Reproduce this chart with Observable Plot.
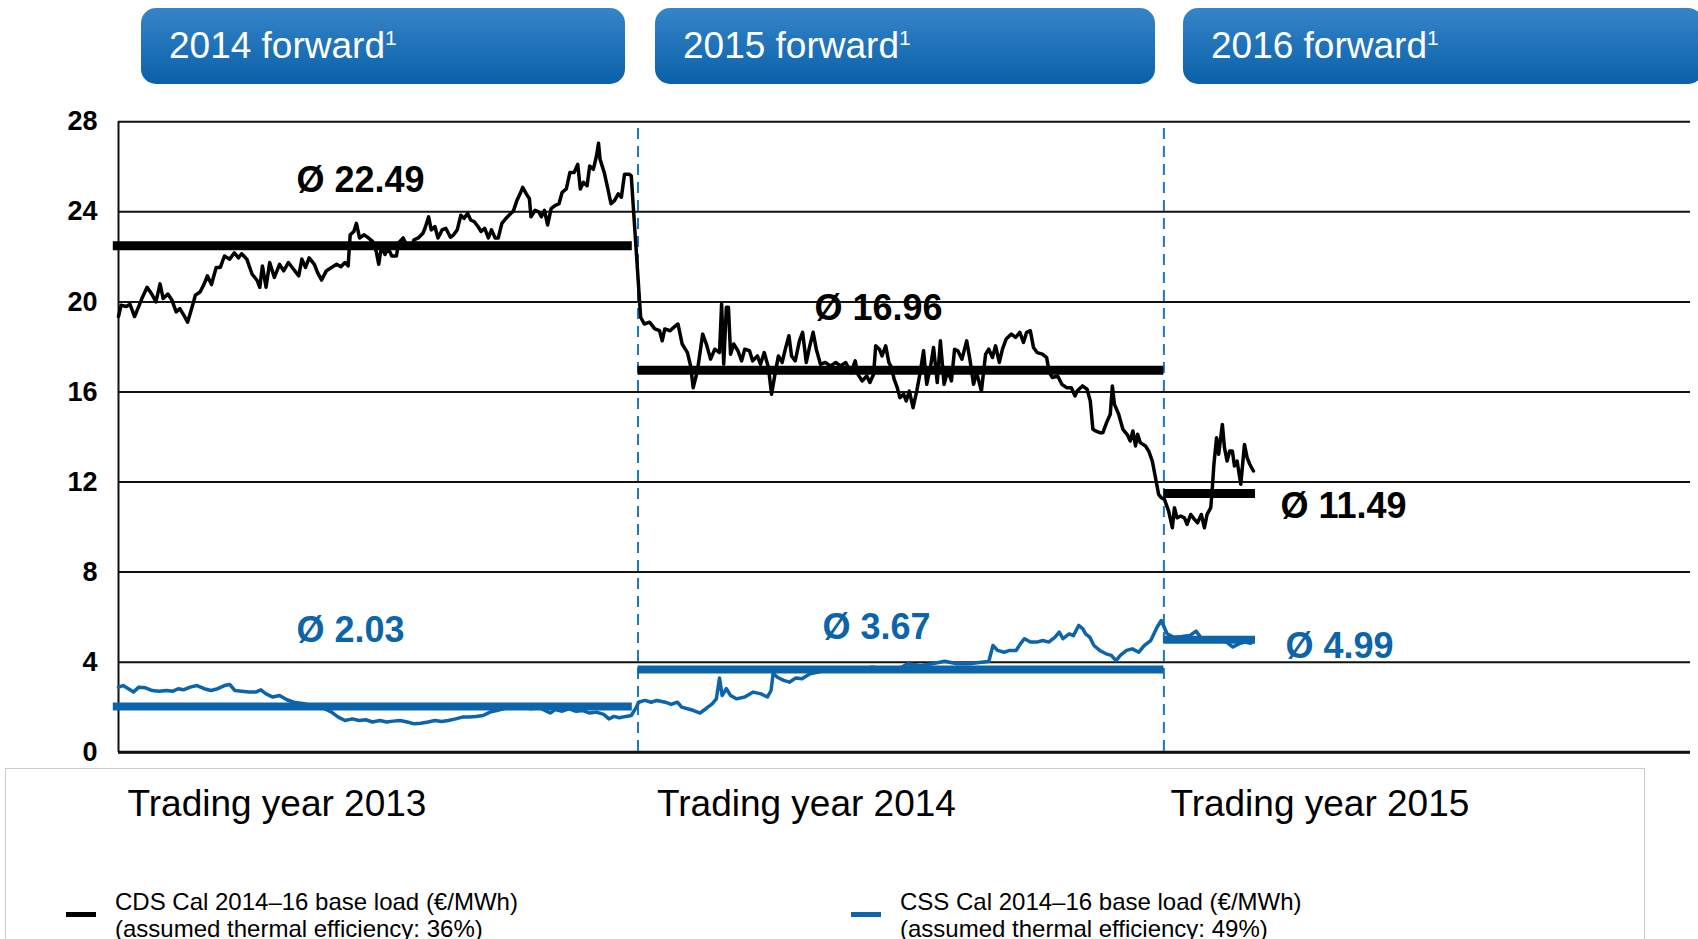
<!DOCTYPE html>
<html><head><meta charset="utf-8">
<script src="https://cdn.jsdelivr.net/npm/d3@7"></script>
<script src="https://cdn.jsdelivr.net/npm/@observablehq/plot@0.6"></script>
<style>
html,body{margin:0;padding:0;background:#fff;}
body{width:1698px;height:939px;overflow:hidden;position:relative;font-family:"Liberation Sans",Arial,Helvetica,sans-serif;color:#000;}
.hdr{position:absolute;top:7.5px;height:76px;border-radius:15px;background:linear-gradient(#3584c8,#0a61a9);color:#fff;font-size:37px;line-height:76px;padding-left:28px;box-sizing:border-box;white-space:nowrap;}
.hdr sup{font-size:21px;line-height:0;vertical-align:13px;}
#frame{position:absolute;left:5px;top:768px;width:1640px;height:200px;border:1.5px solid #cbcbcb;box-sizing:border-box;}
#chart{position:absolute;left:0;top:0;}
.leg{position:absolute;font-size:24px;line-height:26.5px;white-space:nowrap;}
.sw{position:absolute;width:30px;height:5px;}
</style></head>
<body>
<div id="frame"></div>
<div id="chart"></div>
<div id="headers"></div>
<div id="legend"></div>
<script>
// ---------------- data ----------------
const yTicks = [0, 4, 8, 12, 16, 20, 24, 28];
const forwardNames = ["2014 forward", "2015 forward", "2016 forward"];
const tradingYears = [2013, 2014, 2015];
const periodStart = [2013, 2014, 2015];
const avgStart = [2012.99, 2014.0, 2015.0];
const avgEnd = [2013.989, 2015.0, 2015.174];
const cdsAvg = [22.49, 16.96, 11.49];
const cssAvg = [2.03, 3.67, 4.99];
const legendNames = ["CDS Cal 2014\u201316 base load (\u20ac/MWh)", "CSS Cal 2014\u201316 base load (\u20ac/MWh)"];
const legendNotes = ["(assumed thermal efficiency: 36%)", "(assumed thermal efficiency: 49%)"];

// CDS (black), [time in years, €/MWh]
const cds2013 = [[2013.000,19.35],[2013.005,19.85],[2013.015,19.80],[2013.022,19.90],[2013.031,19.35],[2013.039,19.80],[2013.045,20.15],[2013.055,20.65],[2013.064,20.35],[2013.072,20.00],[2013.080,20.80],[2013.086,20.15],[2013.095,20.35],[2013.103,20.07],[2013.111,19.56],[2013.118,19.70],[2013.126,19.40],[2013.133,19.10],[2013.139,19.56],[2013.148,20.30],[2013.157,20.44],[2013.165,20.80],[2013.171,21.16],[2013.179,20.77],[2013.188,21.53],[2013.196,21.53],[2013.204,22.04],[2013.214,21.90],[2013.223,22.18],[2013.231,21.96],[2013.237,22.14],[2013.247,21.90],[2013.257,21.24],[2013.267,20.95],[2013.272,20.65],[2013.277,21.60],[2013.284,20.65],[2013.291,21.75],[2013.300,21.09],[2013.310,21.67],[2013.318,21.38],[2013.327,21.75],[2013.337,21.45],[2013.347,21.16],[2013.353,21.90],[2013.360,21.53],[2013.367,21.96],[2013.377,21.67],[2013.383,21.31],[2013.391,20.97],[2013.400,21.38],[2013.410,21.53],[2013.420,21.67],[2013.428,21.56],[2013.436,21.75],[2013.442,21.60],[2013.446,22.98],[2013.453,23.13],[2013.458,23.49],[2013.464,22.84],[2013.473,22.98],[2013.481,22.84],[2013.489,22.69],[2013.496,22.25],[2013.501,21.67],[2013.506,22.47],[2013.513,22.11],[2013.519,22.40],[2013.526,22.04],[2013.535,22.04],[2013.539,22.62],[2013.548,22.84],[2013.554,22.55],[2013.562,22.43],[2013.569,22.76],[2013.577,22.84],[2013.586,23.05],[2013.590,23.27],[2013.597,23.78],[2013.602,23.20],[2013.609,23.35],[2013.615,22.84],[2013.623,23.20],[2013.630,23.27],[2013.639,22.87],[2013.645,22.98],[2013.652,23.20],[2013.659,23.85],[2013.665,23.71],[2013.672,23.93],[2013.678,23.64],[2013.685,23.56],[2013.692,23.35],[2013.698,23.13],[2013.705,23.27],[2013.712,22.84],[2013.718,23.20],[2013.725,22.84],[2013.731,22.84],[2013.738,23.49],[2013.747,23.74],[2013.755,23.93],[2013.760,24.03],[2013.767,24.51],[2013.773,24.80],[2013.778,25.09],[2013.785,24.80],[2013.791,24.58],[2013.794,23.78],[2013.802,24.07],[2013.809,24.00],[2013.814,23.78],[2013.820,24.07],[2013.826,23.42],[2013.833,24.15],[2013.841,24.29],[2013.848,24.36],[2013.854,24.87],[2013.862,25.02],[2013.869,25.75],[2013.877,25.75],[2013.884,26.11],[2013.889,25.02],[2013.895,25.31],[2013.902,25.16],[2013.907,26.04],[2013.914,25.89],[2013.920,26.47],[2013.924,27.05],[2013.927,26.33],[2013.935,25.75],[2013.942,25.02],[2013.948,24.36],[2013.955,24.51],[2013.962,24.80],[2013.968,24.65],[2013.974,25.67],[2013.983,25.67],[2013.987,25.60]];
const cds2014 = [[2014.005,19.32],[2014.012,19.02],[2014.022,19.10],[2014.032,18.80],[2014.041,18.72],[2014.046,18.27],[2014.051,18.80],[2014.061,18.72],[2014.068,18.87],[2014.076,19.02],[2014.084,18.13],[2014.094,17.75],[2014.100,17.16],[2014.105,16.19],[2014.113,16.94],[2014.123,18.57],[2014.130,18.13],[2014.138,17.46],[2014.146,17.90],[2014.155,17.75],[2014.159,19.91],[2014.163,17.23],[2014.168,19.76],[2014.172,19.76],[2014.176,17.68],[2014.182,18.13],[2014.190,17.83],[2014.197,17.38],[2014.203,17.90],[2014.212,17.83],[2014.218,17.38],[2014.227,17.60],[2014.233,17.23],[2014.240,17.75],[2014.248,17.09],[2014.254,15.90],[2014.261,16.86],[2014.267,17.60],[2014.274,17.31],[2014.281,17.98],[2014.287,18.50],[2014.292,17.60],[2014.299,17.38],[2014.307,18.27],[2014.313,18.65],[2014.320,17.31],[2014.326,17.98],[2014.333,18.65],[2014.339,17.90],[2014.347,17.23],[2014.356,17.31],[2014.366,17.16],[2014.376,17.31],[2014.385,17.16],[2014.395,17.31],[2014.405,16.86],[2014.413,17.38],[2014.418,16.79],[2014.426,16.49],[2014.435,16.71],[2014.441,16.42],[2014.448,16.79],[2014.452,18.05],[2014.459,17.90],[2014.464,17.60],[2014.471,18.05],[2014.477,17.31],[2014.482,17.09],[2014.487,16.57],[2014.493,16.19],[2014.498,15.75],[2014.505,15.90],[2014.510,15.60],[2014.516,16.04],[2014.523,15.30],[2014.530,16.04],[2014.536,16.79],[2014.543,17.83],[2014.549,16.34],[2014.556,17.09],[2014.562,17.98],[2014.569,16.42],[2014.575,18.27],[2014.582,16.34],[2014.589,16.94],[2014.596,16.49],[2014.602,17.90],[2014.608,17.83],[2014.616,17.46],[2014.625,18.27],[2014.631,17.46],[2014.638,16.34],[2014.644,16.86],[2014.653,16.04],[2014.661,17.68],[2014.667,17.90],[2014.674,17.53],[2014.680,18.05],[2014.687,17.31],[2014.693,17.90],[2014.700,18.35],[2014.710,18.57],[2014.718,18.42],[2014.726,18.65],[2014.733,18.20],[2014.739,18.65],[2014.746,18.72],[2014.752,17.98],[2014.759,17.75],[2014.769,17.68],[2014.777,17.53],[2014.782,16.86],[2014.788,16.64],[2014.798,16.71],[2014.806,16.34],[2014.815,16.19],[2014.824,16.19],[2014.831,15.82],[2014.835,16.04],[2014.845,16.27],[2014.854,16.12],[2014.860,15.60],[2014.865,14.34],[2014.870,14.27],[2014.878,14.19],[2014.884,14.19],[2014.891,14.64],[2014.898,15.01],[2014.902,16.27],[2014.906,15.45],[2014.914,15.01],[2014.922,14.34],[2014.930,14.12],[2014.936,13.82],[2014.941,14.27],[2014.946,13.60],[2014.950,14.12],[2014.955,13.75],[2014.965,13.60],[2014.971,13.38],[2014.978,12.93],[2014.984,12.19],[2014.990,11.45],[2014.995,11.30]];
const cds2015 = [[2015.001,11.23],[2015.009,10.71],[2015.016,9.97],[2015.020,10.86],[2015.025,10.41],[2015.032,10.49],[2015.039,10.41],[2015.044,10.12],[2015.051,10.56],[2015.058,10.34],[2015.064,10.19],[2015.071,10.56],[2015.077,9.97],[2015.082,10.56],[2015.089,10.86],[2015.092,11.75],[2015.095,12.79],[2015.100,13.97],[2015.104,13.23],[2015.111,14.56],[2015.115,13.53],[2015.120,12.93],[2015.125,13.38],[2015.130,13.38],[2015.134,12.71],[2015.139,12.93],[2015.146,11.90],[2015.153,13.67],[2015.158,13.08],[2015.163,12.79],[2015.170,12.49]];

// CSS (blue)
const css2013 = [[2013.000,2.89],[2013.009,2.96],[2013.019,2.82],[2013.029,2.67],[2013.039,2.89],[2013.052,2.86],[2013.065,2.74],[2013.078,2.71],[2013.092,2.74],[2013.105,2.71],[2013.115,2.82],[2013.125,2.77],[2013.138,2.89],[2013.151,2.96],[2013.165,2.82],[2013.178,2.74],[2013.191,2.82],[2013.204,2.96],[2013.214,3.01],[2013.224,2.74],[2013.237,2.71],[2013.251,2.67],[2013.264,2.67],[2013.274,2.77],[2013.284,2.59],[2013.297,2.45],[2013.310,2.52],[2013.324,2.33],[2013.337,2.22],[2013.357,2.15],[2013.377,2.03],[2013.397,1.93],[2013.410,1.78],[2013.423,1.56],[2013.436,1.41],[2013.450,1.48],[2013.463,1.41],[2013.476,1.44],[2013.489,1.34],[2013.503,1.41],[2013.516,1.34],[2013.529,1.38],[2013.542,1.41],[2013.556,1.34],[2013.569,1.26],[2013.582,1.29],[2013.596,1.34],[2013.609,1.41],[2013.622,1.36],[2013.635,1.41],[2013.649,1.48],[2013.662,1.56],[2013.675,1.56],[2013.688,1.59],[2013.702,1.63],[2013.715,1.78],[2013.728,1.85],[2013.741,1.93],[2013.755,2.03],[2013.768,2.00],[2013.781,2.03],[2013.794,1.93],[2013.808,2.00],[2013.821,1.85],[2013.831,1.74],[2013.841,1.89],[2013.854,1.82],[2013.867,1.93],[2013.881,1.82],[2013.894,1.85],[2013.907,1.74],[2013.920,1.78],[2013.934,1.68],[2013.944,1.48],[2013.954,1.59],[2013.964,1.53],[2013.977,1.59],[2013.987,1.63],[2013.997,2.00]];
const css2014 = [[2014.001,2.22],[2014.013,2.30],[2014.025,2.22],[2014.036,2.30],[2014.052,2.22],[2014.063,2.12],[2014.075,2.22],[2014.083,2.00],[2014.094,1.93],[2014.106,1.85],[2014.118,1.74],[2014.129,1.93],[2014.141,2.15],[2014.149,2.37],[2014.155,3.30],[2014.160,2.52],[2014.168,2.82],[2014.176,2.52],[2014.187,2.37],[2014.203,2.45],[2014.219,2.67],[2014.234,2.59],[2014.246,2.45],[2014.253,2.74],[2014.257,3.51],[2014.265,3.33],[2014.277,3.19],[2014.288,3.11],[2014.300,3.30],[2014.312,3.26],[2014.327,3.48],[2014.343,3.56],[2014.358,3.70],[2014.374,3.63],[2014.397,3.70],[2014.420,3.66],[2014.444,3.78],[2014.467,3.70],[2014.490,3.63],[2014.513,3.93],[2014.537,3.85],[2014.560,3.93],[2014.583,4.04],[2014.607,3.93],[2014.630,3.93],[2014.653,4.00],[2014.667,4.03],[2014.675,4.74],[2014.684,4.52],[2014.696,4.44],[2014.707,4.52],[2014.719,4.52],[2014.727,4.81],[2014.735,5.04],[2014.746,4.89],[2014.758,4.89],[2014.770,4.96],[2014.781,4.89],[2014.793,5.11],[2014.801,5.33],[2014.808,5.04],[2014.820,5.26],[2014.828,5.18],[2014.838,5.63],[2014.846,5.48],[2014.851,5.26],[2014.859,5.11],[2014.867,4.74],[2014.878,4.52],[2014.890,4.37],[2014.900,4.30],[2014.909,4.07],[2014.917,4.30],[2014.929,4.52],[2014.940,4.59],[2014.952,4.44],[2014.963,4.74],[2014.975,4.96],[2014.987,5.55],[2014.995,5.85]];
const css2015 = [[2015.006,5.26],[2015.018,5.11],[2015.034,5.14],[2015.049,5.18],[2015.061,5.38],[2015.072,5.04],[2015.088,4.96],[2015.103,4.96],[2015.119,4.89],[2015.131,4.67],[2015.142,4.81],[2015.154,4.89],[2015.165,4.84]];

// ---------------- styling / layout ----------------
const FONT = '"Liberation Sans", Arial, Helvetica, sans-serif';
const BLUE = "#0c64ab";
const DASH = "#1b78c3";
const W = 1698, H = 830;
const cdsLabelOffset = [[178, -54], [176.5, -50], [116.6, 24]];
const cssLabelOffset = [[178, -64], [184.5, -31], [121.6, 18]];
const tradingDx = [9, 19, 6.5];
const headerBoxes = [{left: 141, width: 484}, {left: 655, width: 500}, {left: 1183, width: 520}];
const legendPos = [{sw: 66, tx: 115, color: "#000"}, {sw: 851, tx: 900, color: BLUE}];

const toRows = arr => arr.map(([t, v]) => ({t, v}));
const cds = toRows([...cds2013, ...cds2014, ...cds2015]);
const css = toRows([...css2013, ...css2014, ...css2015]);
const cdsBars = cdsAvg.map((v, i) => ({v, a: avgStart[i], b: avgEnd[i], p: periodStart[i]}));
const cssBars = cssAvg.map((v, i) => ({v, a: avgStart[i], b: avgEnd[i], p: periodStart[i]}));

const avgLabels = (bars, offs, color) => bars.map((d, i) =>
  Plot.text([d], {x: "p", y: "v", text: r => "\u00d8 " + r.v.toFixed(2), dx: offs[i][0], dy: offs[i][1],
    textAnchor: "start", lineAnchor: "bottom", fontSize: 36, fontWeight: "bold", fill: color}));

const chart = Plot.plot({
  width: W, height: H,
  marginTop: 121.3, marginBottom: H - 751.7, marginLeft: 118, marginRight: 8,
  style: {fontFamily: FONT, background: "transparent", overflow: "visible", color: "#000"},
  x: {type: "linear", domain: [2013, 2014, 2015, 2016], range: [118, 637.5, 1163.4, 1690], axis: null},
  y: {domain: [0, 28]},
  marks: [
    Plot.ruleY(yTicks, {stroke: "#111", strokeWidth: 2}),
    Plot.ruleY([0], {stroke: "#111", strokeWidth: 3}),
    Plot.ruleX([2013], {y1: 0, y2: 28, stroke: "#111", strokeWidth: 2}),
    Plot.axisY(yTicks, {tickSize: 0, tickPadding: 21, fontSize: 27, fontWeight: "bold", label: null, tickFormat: d => String(d)}),
    Plot.ruleX([2014, 2015], {y1: 27.7, y2: -0.2, stroke: DASH, strokeWidth: 2, strokeDasharray: "11,7"}),
    Plot.line(css, {x: "t", y: "v", stroke: BLUE, strokeWidth: 3.5}),
    Plot.line(cds, {x: "t", y: "v", stroke: "#000", strokeWidth: 3.5}),
    Plot.ruleY(cssBars, {y: "v", x1: "a", x2: "b", stroke: BLUE, strokeWidth: 8, strokeLinecap: "butt"}),
    Plot.ruleY(cdsBars, {y: "v", x1: "a", x2: "b", stroke: "#000", strokeWidth: 9, strokeLinecap: "butt"}),
    ...avgLabels(cdsBars, cdsLabelOffset, "#000"),
    ...avgLabels(cssBars, cssLabelOffset, BLUE),
    ...tradingYears.map((yr, i) => Plot.text([yr], {x: d => d, frameAnchor: "bottom", dy: 63.3, dx: tradingDx[i],
      text: d => "Trading year " + d, textAnchor: "start", lineAnchor: "bottom", fontSize: 37, fill: "#000"}))
  ]
});
document.getElementById("chart").appendChild(chart);

// header boxes
const hdr = document.getElementById("headers");
forwardNames.forEach((name, i) => {
  const d = document.createElement("div");
  d.className = "hdr";
  d.style.left = headerBoxes[i].left + "px";
  d.style.width = headerBoxes[i].width + "px";
  d.innerHTML = name + "<sup>1</sup>";
  hdr.appendChild(d);
});

// legend
const leg = document.getElementById("legend");
legendNames.forEach((name, i) => {
  const s = document.createElement("div");
  s.className = "sw";
  s.style.left = legendPos[i].sw + "px";
  s.style.top = "912px";
  s.style.background = legendPos[i].color;
  leg.appendChild(s);
  const t = document.createElement("div");
  t.className = "leg";
  t.style.left = legendPos[i].tx + "px";
  t.style.top = "889px";
  t.innerHTML = name + "<br>" + legendNotes[i];
  leg.appendChild(t);
});
</script>
</body></html>
